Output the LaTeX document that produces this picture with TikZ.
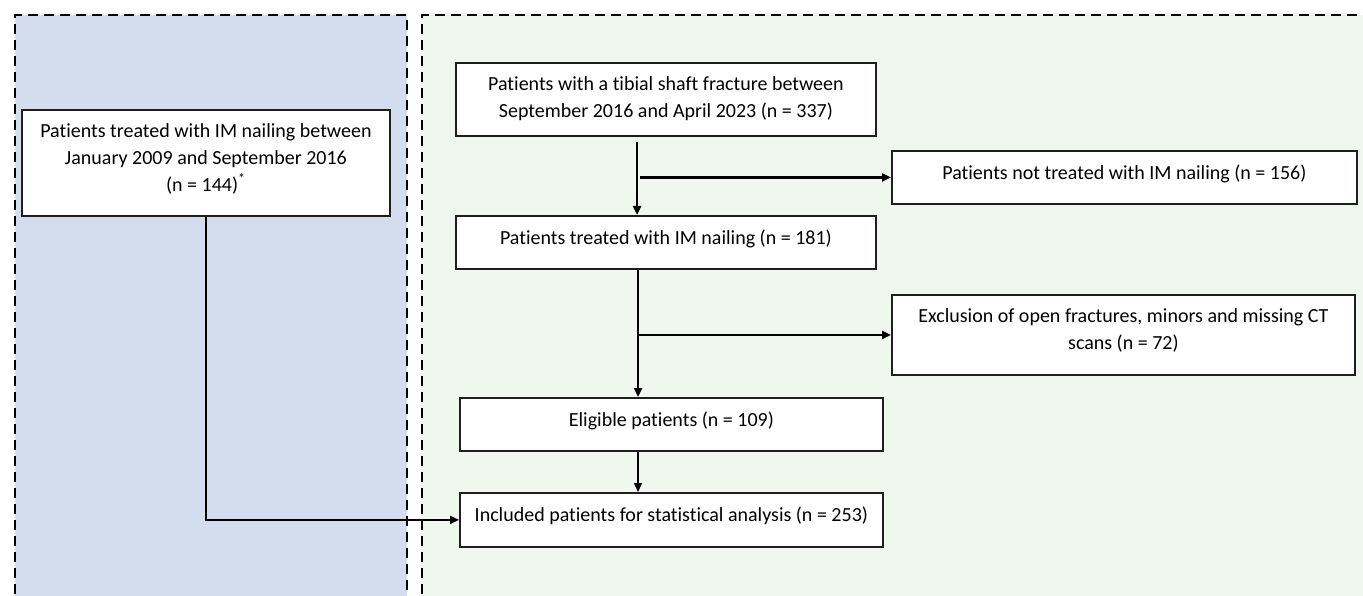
\documentclass[tikz,border=0pt]{standalone}
\usepackage{fontspec}
\setmainfont{Carlito}[RawFeature={-liga;-clig;-calt;-dlig}]
\usetikzlibrary{arrows.meta}
\definecolor{leftbg}{RGB}{211,221,238}
\definecolor{rightbg}{RGB}{240,247,238}
\definecolor{ink}{RGB}{30,30,30}
\newcommand{\flowtext}[3]{\parbox[t][#2][t]{#1}{\centering\fontsize{20}{27}\selectfont\vspace*{13.5pt}#3\par}}
\tikzset{
  flowbox/.style={draw=ink, line width=1.8pt, fill=white, inner sep=0pt, anchor=north west},
  panel/.style={draw=black, line width=2.8pt, dash pattern=on 10pt off 6pt},
  thickarrow/.style={draw=black, line width=2.5pt, -{Triangle[length=9pt,width=8pt]}},
  thinarrow/.style={draw=black, line width=1.6pt, -{Triangle[length=9pt,width=8pt]}}
}
\begin{document}
\begin{tikzpicture}[x=1pt,y=-1pt]
\useasboundingbox (0,0) rectangle (1363,596);
\clip (0,0) rectangle (1363,596);
% panels
\fill[leftbg] (15,15) rectangle (407,610);
\fill[rightbg] (422,15) rectangle (1375,610);
\draw[panel] (15,610) -- (15,15) -- (407,15) -- (407,610);
\draw[panel] (422,610) -- (422,15) -- (1375,15);
% boxes
\node[flowbox] (A) at (21,109) {\flowtext{368pt}{106pt}{Patients treated with IM nailing between\\January 2009 and September 2016\\(n = 144)\textsuperscript{*}}};
\node[flowbox] (B) at (455,62) {\flowtext{420pt}{73pt}{Patients with a tibial shaft fracture between\\September 2016 and April 2023 (n = 337)}};
\node[flowbox] (C) at (891,150) {\flowtext{465pt}{53pt}{Patients not treated with IM nailing (n = 156)}};
\node[flowbox] (D) at (455,215) {\flowtext{420pt}{53pt}{Patients treated with IM nailing (n = 181)}};
\node[flowbox] (E) at (891,294) {\flowtext{463pt}{80pt}{Exclusion of open fractures, minors and missing CT\\scans (n = 72)}};
\node[flowbox] (F) at (459,397) {\flowtext{423pt}{53pt}{Eligible patients (n = 109)}};
\node[flowbox] (G) at (459,492) {\flowtext{423pt}{54pt}{Included patients for statistical analysis (n = 253)}};
% helper coordinates
\coordinate (b1) at ([xshift=182pt,yshift=-5pt]B.south west);
\coordinate (d1) at ([xshift=183pt]D.south west);
\coordinate (f1) at ([xshift=179pt]F.south west);
\coordinate (a1) at ([xshift=185pt]A.south west);
% connectors
\draw[thickarrow] (b1) -- (b1 |- D.north);
\draw[thickarrow] ([xshift=3pt]b1 |- C.west) -- (C.west);
\draw[thickarrow] (d1) -- (d1 |- F.north);
\draw[thickarrow] (d1 |- E.west) -- (E.west);
\draw[thinarrow] (f1) -- (f1 |- G.north);
\draw[thinarrow] (a1) -- (a1 |- G.west) -- (G.west);
\end{tikzpicture}
\end{document}
